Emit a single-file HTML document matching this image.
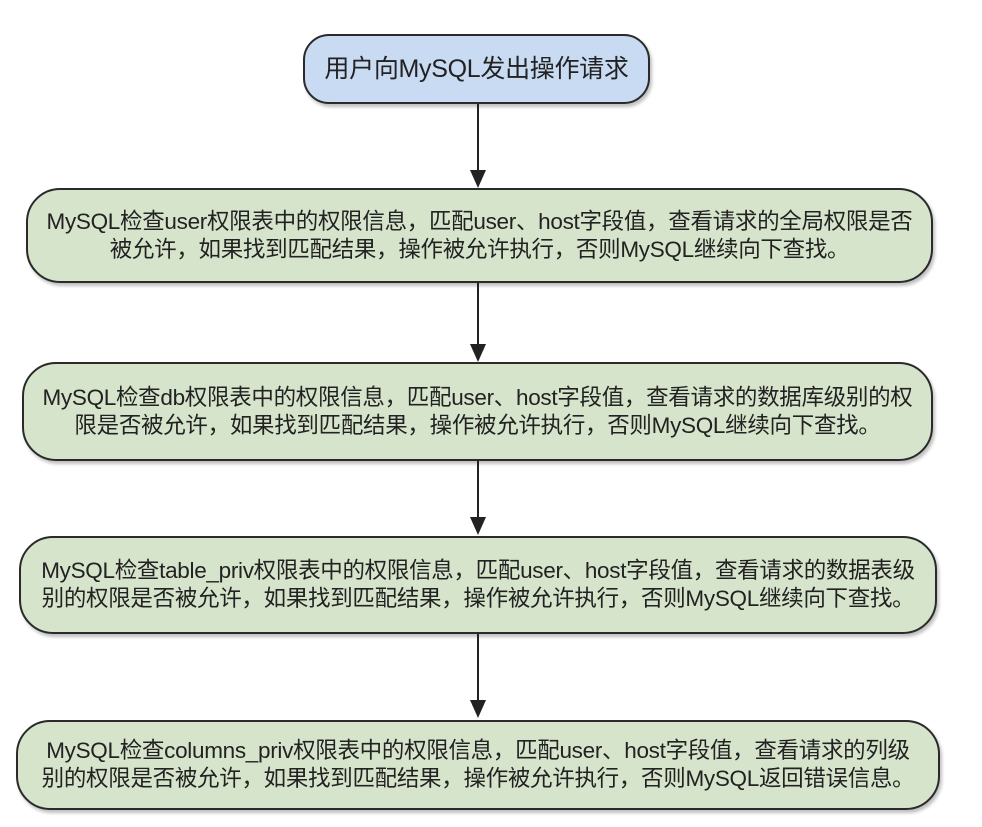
<!DOCTYPE html>
<html><head><meta charset="utf-8"><style>
body{margin:0;width:982px;height:827px;background:#fff;position:relative;overflow:hidden;font-family:"Liberation Sans","Noto Sans CJK SC",sans-serif;color:#222}
.b{position:absolute;box-sizing:border-box;border:2.5px solid #2a2a2a;border-radius:34px;background:#d7e4cc;display:flex;align-items:center;justify-content:center;text-align:center;font-size:22.5px;line-height:28px;letter-spacing:-0.3px;white-space:nowrap;box-shadow:2px 3px 3px rgba(0,0,0,0.25);padding:0}
.top{background:#c9dbf3;border-radius:26px;font-size:25px}
.l{position:absolute;left:477px;width:2px;background:#222}
.a{position:absolute;left:470px;width:0;height:0;border-left:8px solid transparent;border-right:8px solid transparent;border-top:18px solid #222}
</style></head><body>
<div class="b top" style="left:303px;top:34px;width:347px;height:70px">用户向MySQL发出操作请求</div>
<div class="l" style="top:104px;height:68px"></div><div class="a" style="top:170px"></div>
<div class="b" style="left:26px;top:188px;width:907px;height:95px">MySQL检查user权限表中的权限信息，匹配user、host字段值，查看请求的全局权限是否<br>被允许，如果找到匹配结果，操作被允许执行，否则MySQL继续向下查找。</div>
<div class="l" style="top:283px;height:63px"></div><div class="a" style="top:344px"></div>
<div class="b" style="left:22px;top:362px;width:911px;height:99px">MySQL检查db权限表中的权限信息，匹配user、host字段值，查看请求的数据库级别的权<br>限是否被允许，如果找到匹配结果，操作被允许执行，否则MySQL继续向下查找。</div>
<div class="l" style="top:461px;height:58px"></div><div class="a" style="top:517px"></div>
<div class="b" style="left:19px;top:536px;width:918px;height:98px">MySQL检查table_priv权限表中的权限信息，匹配user、host字段值，查看请求的数据表级<br>别的权限是否被允许，如果找到匹配结果，操作被允许执行，否则MySQL继续向下查找。</div>
<div class="l" style="top:634px;height:68px"></div><div class="a" style="top:700px"></div>
<div class="b" style="left:16px;top:720px;width:924px;height:90px">MySQL检查columns_priv权限表中的权限信息，匹配user、host字段值，查看请求的列级<br>别的权限是否被允许，如果找到匹配结果，操作被允许执行，否则MySQL返回错误信息。</div>
</body></html>
